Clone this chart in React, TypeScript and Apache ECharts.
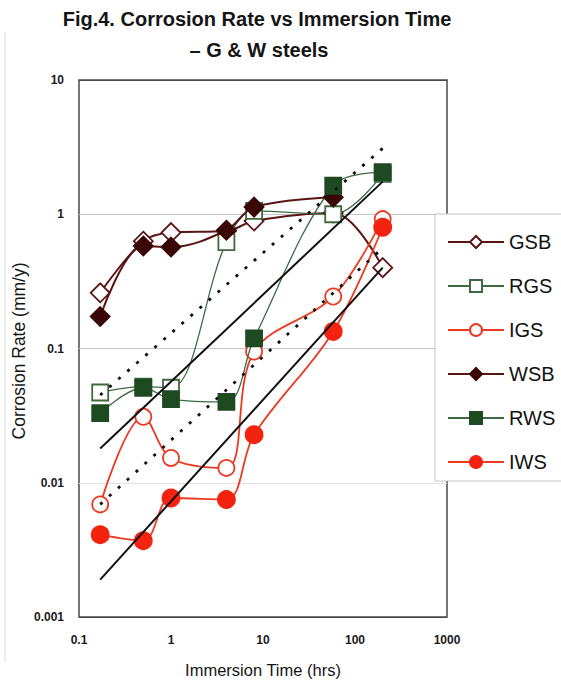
import React, { useEffect, useRef } from "react";
import * as echarts from "echarts";

// Immersion times (hrs) shared by all measured series
const timesHrs = [0.17, 0.5, 1, 4, 8, 58, 200];

// Corrosion rate (mm/y)
const gsb = [0.26, 0.63, 0.73, 0.75, 0.89, 1.02, 0.4];
const rgs = [0.047, 0.052, 0.051, 0.62, 1.06, 1.0, 2.0];
const igs = [0.0069, 0.031, 0.0153, 0.0129, 0.095, 0.244, 0.92];
const wsb = [0.173, 0.58, 0.57, 0.76, 1.13, 1.34];
const rws = [0.033, 0.051, 0.042, 0.04, 0.119, 1.63, 2.06];
const iws = [0.0041, 0.0037, 0.0077, 0.0075, 0.0228, 0.134, 0.8];

// Power-law trend lines (end points)
const trendTimes = [0.17, 200];
const trendSolidUpper = [0.018, 1.75];
const trendSolidLower = [0.0019, 0.4];
const trendDottedUpper = [0.045, 3.1];
const trendDottedLower = [0.0069, 0.56];

const xTickLabels = ["0.1", "1", "10", "100", "1000"];
const yTickLabels = ["0.001", "0.01", "0.1", "1", "10"];
const legendNames = ["GSB", "RGS", "IGS", "WSB", "RWS", "IWS"];

const FONT = '"Liberation Sans", Arial, Helvetica, sans-serif';

const MAROON = "#5a1414";
const MAROON_FILL = "#3a0707";
const GREEN = "#3d6b3f";
const GREEN_FILL = "#1e4a22";
const RED = "#ec3a22";
const RED_FILL = "#f4230f";

function dataSeries(
  name: string,
  values: number[],
  symbol: string,
  size: number,
  lineColor: string,
  lineWidth: number,
  fill: string,
  border: string,
  z: number
) {
  return {
    name,
    type: "line",
    data: values.map((v, i) => [timesHrs[i], v]),
    symbol,
    symbolSize: size,
    smooth: 0.35,
    showSymbol: true,
    lineStyle: { color: lineColor, width: lineWidth },
    itemStyle: { color: fill, borderColor: border, borderWidth: 1.8 },
    emphasis: { disabled: true },
    z,
  };
}

function trendSeries(values: number[], dotted: boolean) {
  return {
    type: "line",
    data: values.map((v, i) => [trendTimes[i], v]),
    symbol: "none",
    lineStyle: dotted
      ? { color: "#111", width: 2.8, type: [3, 9] }
      : { color: "#111", width: 2 },
    emphasis: { disabled: true },
    silent: true,
    z: 6,
  };
}

export default function App() {
  const ref = useRef<HTMLDivElement>(null);

  useEffect(() => {
    if (!ref.current) return;
    const chart = echarts.init(ref.current, undefined, { renderer: "svg" });
    const option: any = {
      animation: false,
      backgroundColor: "#ffffff",
      grid: {
        left: 79,
        top: 80,
        width: 368,
        height: 537,
        show: true,
        borderColor: "#4a4a4a",
        borderWidth: 1.5,
        backgroundColor: "transparent",
      },
      xAxis: {
        type: "log",
        logBase: 10,
        min: 0.1,
        max: 1000,
        axisLine: { show: false },
        axisTick: { show: false },
        splitLine: { show: false },
        axisLabel: {
          margin: 17,
          fontSize: 12,
          fontWeight: "bold",
          fontFamily: FONT,
          color: "#1a1a1a",
          formatter: (v: number) =>
            xTickLabels[Math.round(Math.log10(v)) + 1] ?? "",
        },
      },
      yAxis: {
        type: "log",
        logBase: 10,
        min: 0.001,
        max: 10,
        axisLine: { show: false },
        axisTick: { show: false },
        splitLine: {
          show: true,
          lineStyle: {
            color: ["#4a4a4a", "#e2e2e2", "#c4c4c4", "#c4c4c4", "#4a4a4a"],
            width: 1,
          },
        },
        axisLabel: {
          margin: 15,
          fontSize: 12,
          fontWeight: "bold",
          fontFamily: FONT,
          color: "#1a1a1a",
          formatter: (v: number) =>
            yTickLabels[Math.round(Math.log10(v)) + 3] ?? "",
        },
      },
      legend: {
        data: legendNames,
        orient: "vertical",
        left: 442,
        top: 227,
        itemWidth: 56,
        itemHeight: 15,
        itemGap: 24,
        z: 10,
        selectedMode: false,
        textStyle: {
          fontSize: 20,
          lineHeight: 20,
          fontFamily: FONT,
          color: "#111",
        },
      },
      graphic: [
        {
          type: "line",
          z: 1,
          shape: { x1: 5, y1: 32, x2: 5, y2: 662 },
          style: { stroke: "#dcdcdc", lineWidth: 1 },
        },
        {
          type: "rect",
          z: 8,
          shape: { x: 435, y: 214, width: 200, height: 267 },
          style: { fill: "#ffffff", stroke: "#c4c4c4", lineWidth: 1 },
        },
        {
          type: "text",
          x: 257,
          y: 19,
          style: {
            text: "Fig.4. Corrosion Rate vs Immersion Time",
            fontSize: 20,
            fontWeight: "bold",
            fontFamily: FONT,
            fill: "#151515",
            align: "center",
            verticalAlign: "middle",
          },
        },
        {
          type: "text",
          x: 259,
          y: 50,
          style: {
            text: "– G & W steels",
            fontSize: 20,
            fontWeight: "bold",
            fontFamily: FONT,
            fill: "#151515",
            align: "center",
            verticalAlign: "middle",
          },
        },
        {
          type: "text",
          x: 263,
          y: 670,
          style: {
            text: "Immersion Time (hrs)",
            fontSize: 16.5,
            fontFamily: FONT,
            fill: "#151515",
            align: "center",
            verticalAlign: "middle",
          },
        },
        {
          type: "text",
          x: 19,
          y: 351,
          rotation: Math.PI / 2,
          style: {
            text: "Corrosion Rate (mm/y)",
            fontSize: 17.5,
            fontFamily: FONT,
            fill: "#151515",
            align: "center",
            verticalAlign: "middle",
          },
        },
      ],
      series: [
        dataSeries("GSB", gsb, "diamond", 19, MAROON, 2, "#ffffff", MAROON, 2),
        dataSeries("RGS", rgs, "rect", 16, GREEN, 1.3, "#ffffff", GREEN, 2),
        dataSeries("IGS", igs, "circle", 16, RED, 1.8, "#ffffff", RED, 2),
        dataSeries("WSB", wsb, "diamond", 19, MAROON, 2, MAROON_FILL, MAROON_FILL, 3),
        dataSeries("RWS", rws, "rect", 16, GREEN, 1.3, GREEN_FILL, GREEN_FILL, 3),
        dataSeries("IWS", iws, "circle", 17, RED, 1.8, RED_FILL, RED_FILL, 3),
        trendSeries(trendSolidUpper, false),
        trendSeries(trendSolidLower, false),
        trendSeries(trendDottedUpper, true),
        trendSeries(trendDottedLower, true),
      ],
    };
    chart.setOption(option);
    return () => chart.dispose();
  }, []);

  return (
    <div
      ref={ref}
      style={{
        position: "fixed",
        left: 0,
        top: 0,
        width: 561,
        height: 687,
        background: "#fff",
      }}
    />
  );
}
